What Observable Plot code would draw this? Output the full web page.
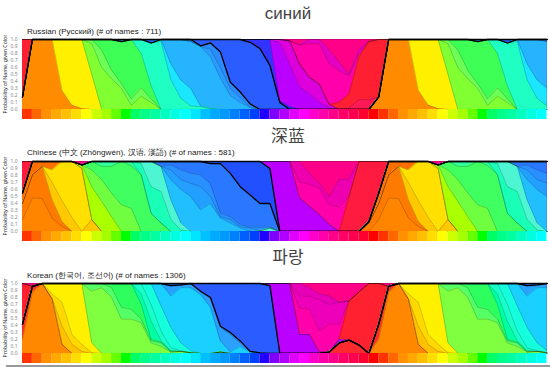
<!DOCTYPE html>
<html><head><meta charset="utf-8">
<script src="https://cdn.jsdelivr.net/npm/d3@7"></script>
<script src="https://cdn.jsdelivr.net/npm/@observablehq/plot@0.6"></script>
<style>
html,body{margin:0;padding:0;background:#fff;overflow:hidden}
#page{position:relative;width:550px;height:367px;font-family:"Liberation Sans",Arial,sans-serif}
#page>*{position:absolute}
.big{color:#444;font-size:17px;left:188px;width:200px;text-align:center;line-height:20px}
.sub{color:#222;font-size:8.1px;left:27px;white-space:nowrap;line-height:10px}
svg{overflow:visible}
</style></head><body><div id="page"></div>
<script>
const swatches = ["#ff3300","#ff6600","#ff9000","#ffa800","#ffc000","#ffdd00","#ffff00","#ccff00","#a6ff00","#66ff00","#00ff00","#00ff66","#00ff88","#00ffa0","#00ffc0","#00ffe0","#00ffff","#00e6ff","#00c0ff","#00aaff","#0099ff","#0080ff","#0060ff","#0040ff","#2200ff","#8000ff","#b000ff","#e000ff","#ff00ff","#ff00cc","#ff00aa","#ff0088","#ff0066","#ff0050","#ff0030","#ff0000"];
const yTicks = [0,0.1,0.2,0.3,0.4,0.5,0.6,0.7,0.8,0.9,1];

// Each band: first column of the list, then its upper edge (share of names) at successive hue columns
const ruFill  = ["#ff8c00","#fff000","#80ff33","#6dff55","#3dff55","#1fffc4","#1ae6ff","#26b4ff","#2a9cff","#2a8cff","#2a5cff","#3333ff","#bb00ff","#dd00dd","#ff1a55","#ff1f33","#ff00aa","#e600c0","#ff0088"];
const ruStart = [0,4,7,7,8,12,13,15,18,16,10,22,25,26,32,31,28,29,0];
const ruTops  = [
 [.18,1,1,1,.27,.06,.01],
 [1,1,1,.5],
 [.94,.6,.44,.3,.06,.19,.1],
 [1,.85,.56,.37,.15,.31,.15],
 [1,1,.97,1,.8,.34],
 [1,.95,.97,.42,.16,.05,.04,.01],
 [.95,1,.65,.42,.3,.05,.02],
 [1,1,.97,.9,.75,.45,.2,.1,.03],
 [.9,.86,.6,.3,.17,.03],
 [1,1,.91,.95,.82,.39,.25,.08],
 [1,1,1,1,1,1,1,1,1,1,1,1,1,.96,.87,.63,.1],
 [1,1,1,1,.12,.04],
 [1,.95,.65,.32,.22,.1,.02],
 [1,.98,.65,.46,.36,.07],
 [0,.02,.14,.14,.18],
 [0,.1,.22,.75,.97,1],
 [.92,.94,.94,.65,.55,.48,.8],
 [1,1,.85,.68,.5,.85],
 []
];
const ruBlue = 10;

const zhFill  = ["#ff8400","#ff7a00","#ffc800","#ffe000","#ff6e00","#aaff00","#70ff40","#40ff60","#30ff9c","#19ffb8","#4df5d2","#22bfff","#229fff","#2a90ff","#2a78ff","#2250ff","#bb00ff","#ff1a40","#ff00aa","#ee00b0","#ff0088"];
const zhStart = [0,35,3,3,34,6,7,7,8,12,12,14,15,15,14,19,25,32,28,28,0];
const zhTops  = [
 [.17,.48,.47,.19,.07],
 [.12,.4,.81,.93,.45,.14],
 [.7,.44,.2,0,.17],
 [.88,1,1,.9,.17],
 [0,.14,.55,1,1,1,1],
 [.95,.64,.43,.21],
 [.88,.74,.55,.38,.33],
 [1,.93,.93,1,.94,.81,.26,.12],
 [1,1,1,1],
 [.97,.64,.57,.17,.02],
 [1,1,.93,.45,.12,0,0,0,0,0,0,0,.01,.05],
 [.93,.74,.6,.5,.31,.4,.19,.12,.05],
 [.88,.74,.69,.64,.5,.21,.17,.07,.05,.01],
 [.95,.88,.83,.81,.68,.26,.21,.1,.06,.06,.06],
 [1,1,1,1,1,.97,.97,.83,.64,.52,.4,.4,0],
 [1,1,1,1,1,1,.9],
 [1,1,1,.48,.36,.24,.1],
 [0,.5,1,1,1],
 [.71,.67,.62,.38,.35,.5],
 [1,.83,.69,.5,.74,.75],
 []
];
const zhBlue = 15;

const koFill  = ["#ff8800","#ff2a30","#ffc000","#ffd800","#fff000","#7fff40","#55ff66","#2dff5f","#00ffa0","#19ffc8","#15ffdd","#1ad0ff","#2aa0ff","#2a90ff","#2a5cff","#bb00ff","#ff2030","#ff00aa","#ee00bb","#e800b8","#ff0088"];
const koStart = [0,31,3,3,3,7,7,9,12,12,13,14,15,15,15,25,31,28,28,28,0];
const koTops  = [
 [.2,.87,1,.78,.13],
 [.02,.15,.19,.12,0,.42,.96,1],
 [.68,.39,.13,.03],
 [.85,.73,.27,.13,.01],
 [1,1,1,1,.15],
 [.89,.94,.8,.49,.49,.44,.15,.1,.02,.03,.01,0,0,.02],
 [1,1,.94,.66,.63,.49,.18,.15,.02],
 [1,1,1,.7,.2,.16,.03],
 [.85,.46,.18,.04,.03,.01],
 [1,.7,.32,.08,.04,.01],
 [1,.68,.37,.15,.04],
 [1,.82,.94,.94,.84,.66,.18,.02,.1,.02],
 [.96,.97,1,.88,.78,.37,.27,.15,.03,.01],
 [.97,.98,1,.89,.8,.39,.3,.18,.03,.01],
 [1,1,1,1,1,1,1,1,1,1,.97],
 [1,1,1,.27,.27,.02,.02,.2],
 [.02,.21,.75,.88,1,1],
 [.65,.63,.32,.42,.42],
 [.82,.82,.77,.7,.73],
 [1,.94,.85,.82,.73],
 []
];
const koBlue = 14;

const panels = [
 {big:"синий", bigTop:4,  font:"'Liberation Sans'", sub:"Russian (Русский) (# of names : 711)", subTop:27, top:37, fill:ruFill, start:ruStart, tops:ruTops, blue:ruBlue},
 {big:"深蓝", bigTop:125, font:"'Noto Sans CJK SC'", sub:"Chinese (中文 (Zhōngwén), 汉语, 漢語) (# of names : 581)", subTop:148, top:158.5, fill:zhFill, start:zhStart, tops:zhTops, blue:zhBlue},
 {big:"파랑", bigTop:246, font:"'Noto Sans CJK KR'", sub:"Korean (한국어, 조선어) (# of names : 1306)", subTop:271, top:281, fill:koFill, start:koStart, tops:koTops, blue:koBlue}
];

const PERIOD = 36, LAST = 53;
const page = document.getElementById("page");
function addDiv(cls, text, top, font){
  const d = document.createElement("div");
  d.className = cls; d.textContent = text; d.style.top = top + "px";
  if (font) d.style.fontFamily = font + ",'Liberation Sans',sans-serif";
  page.appendChild(d);
}
const cells = d3.range(LAST).map(k => ({k, color: swatches[k % PERIOD]}));

for (const p of panels) {
  addDiv("big", p.big, p.bigTop, p.font);
  addDiv("sub", p.sub, p.subTop);
  // upper edge of each band per column, never below the band under it
  const edges = [];
  p.tops.forEach((vals, i) => {
    const e = new Array(PERIOD).fill(i === p.tops.length - 1 ? 1 : 0);
    vals.forEach((v, j) => { e[(p.start[i] + j) % PERIOD] = v; });
    if (i > 0) e.forEach((v, c) => { e[c] = Math.max(v, edges[i-1][c]); });
    edges.push(e);
  });
  const cols = d3.range(LAST + 1);
  const rows = i => cols.map(c => ({
    c,
    lo: i > 0 ? edges[i-1][c % PERIOD] : 0,
    hi: edges[i][c % PERIOD]
  }));
  const marks = [];
  // painted from the top band down, each from the baseline to its upper edge, so no seams show
  for (let i = p.tops.length - 1; i >= 0; i--) {
    marks.push(Plot.areaY(rows(i), {x:"c", y1:0, y2:"hi", fill:p.fill[i]}));
  }
  p.tops.forEach((_, i) => {
    marks.push(Plot.line(rows(i), {x:"c", y:"hi", stroke:"#000", strokeOpacity:0.3, strokeWidth:0.6}));
  });
  marks.push(Plot.line(rows(p.blue), {x:"c", y:"lo", stroke:"#000", strokeWidth:1.3}));
  marks.push(Plot.line(rows(p.blue), {x:"c", y:"hi", stroke:"#000", strokeWidth:1.3}));
  marks.push(Plot.ruleY([0], {x1:0, x2:LAST, stroke:"#000", strokeOpacity:0.6, strokeWidth:0.7}));
  marks.push(Plot.rect(cells, {x1:"k", x2:d => d.k + 1, y1:-0.143, y2:0, fill:"color"}));
  marks.push(Plot.axisY({ticks:yTicks, tickFormat:".1f", tickSize:0, tickPadding:5, fontSize:5, fill:"#888", label:null}));
  marks.push(Plot.text(["Probability of Name, given Color"], {frameAnchor:"left", textAnchor:"middle", rotate:-90, dx:-17, dy:-5.5, fontSize:5.2, fill:"#222"}));
  const svg = Plot.plot({
    width:550, height:84,
    marginLeft:22, marginRight:3.5, marginTop:2, marginBottom:2,
    x:{domain:[0,LAST], axis:null},
    y:{domain:[-0.143,1], axis:null},
    marks
  });
  svg.style.position = "absolute";
  svg.style.left = "0";
  svg.style.top = p.top + "px";
  svg.style.background = "transparent";
  page.appendChild(svg);
}
const rule = document.createElement("div");
rule.style.cssText = "left:6px;top:365px;width:544px;height:2px;background:#999";
page.appendChild(rule);
</script></body></html>
